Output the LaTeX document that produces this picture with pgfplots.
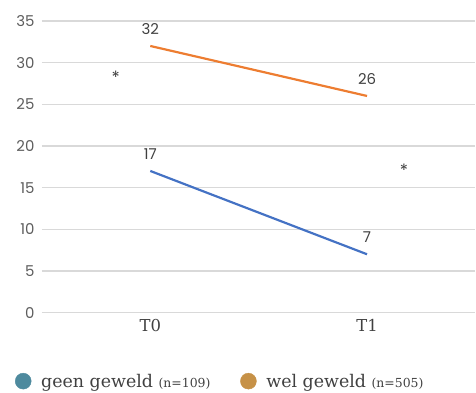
\documentclass[border=0pt]{standalone}
\usepackage{pgfplots}
\pgfplotsset{compat=1.18}
\usepackage{fontspec}
\setmainfont{DejaVu Serif}
\newfontfamily\pop{Poppins}
\definecolor{lorange}{HTML}{ED7D31}
\definecolor{lblue}{HTML}{4472C4}
\definecolor{legteal}{HTML}{4E8A9E}
\definecolor{legtan}{HTML}{C69147}
\definecolor{txt}{HTML}{404040}
\definecolor{gridc}{HTML}{D9D9D9}
\begin{document}
\begin{tikzpicture}
\begin{axis}[
  at={(0,0)}, anchor=south west,
  scale only axis,
  width=434bp, height=292bp,
  xmin=-0.5, xmax=1.5, ymin=0, ymax=35,
  ytick={0,5,...,35},
  xtick={0,1}, xticklabels={T0,T1},
  axis line style={draw=none},
  major tick length=0pt,
  xmajorgrids=false, ymajorgrids=true,
  major grid style={draw=gridc, line width=1.2pt},
  /pgf/number format/assume math mode=true,
  yticklabel style={font=\pop\fontsize{15}{15}\selectfont, text=txt!85, xshift=-4bp},
  xticklabel style={font=\fontsize{16.5}{16.5}\selectfont, text=txt, yshift=-3bp},
  clip=false,
  legend columns=2,
  legend cell align=left,
  legend style={draw=none, fill=none, at={(-0.069,-0.235)}, anchor=west,
    font=\fontsize{17.5}{17.5}\selectfont, text=txt,
    /tikz/every odd column/.append style={column sep=8bp},
    /tikz/every even column/.append style={column sep=28bp}},
]
\addlegendimage{only marks, mark=*, mark size=8bp, color=legteal}
\addlegendentry{geen geweld {\fontsize{12.5}{12.5}\selectfont(n=109)}}
\addlegendimage{only marks, mark=*, mark size=8bp, color=legtan}
\addlegendentry{wel geweld {\fontsize{12.5}{12.5}\selectfont(n=505)}}
\addplot[lorange, line width=2.2pt, nodes near coords, forget plot,
  every node near coord/.append style={font=\pop\fontsize{15}{15}\selectfont, text=txt, yshift=7bp}]
  coordinates {(0,32) (1,26)};
\addplot[lblue, line width=2.2pt, nodes near coords, forget plot,
  every node near coord/.append style={font=\pop\fontsize{15}{15}\selectfont, text=txt, yshift=7bp}]
  coordinates {(0,17) (1,7)};
\node[font=\pop\fontsize{17}{17}\selectfont, text=txt] at (axis cs:-0.16,28.2) {*};
\node[font=\pop\fontsize{17}{17}\selectfont, text=txt] at (axis cs:1.17,17.1) {*};
\end{axis}
\path (-42bp,-80bp) rectangle (434bp,313bp);
\end{tikzpicture}
\end{document}
